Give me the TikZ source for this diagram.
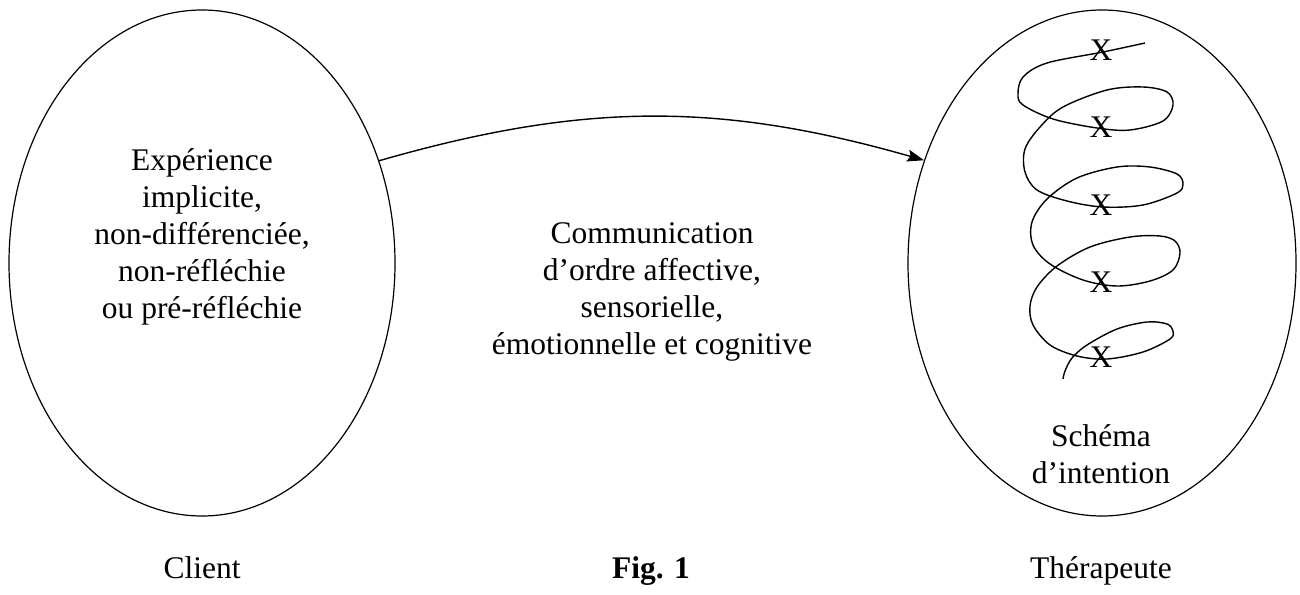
\documentclass[tikz,border=0pt]{standalone}
\usepackage{fontspec}
\setmainfont{Liberation Serif}
\usetikzlibrary{shapes.geometric,arrows.meta}
\tikzset{
  bubble/.style={draw, ellipse, line width=1.2pt, inner sep=0pt},
  label txt/.style={align=center, font=\fontsize{31.5}{37}\selectfont, inner sep=0pt},
  mark txt/.style={font=\fontsize{31.5}{32}\selectfont, inner sep=0pt},
  link/.style={line width=1.4pt, -{Stealth[length=17pt,width=12pt,inset=3pt]}},
  coil/.style={line width=1.4pt}
}
\begin{document}
\begin{tikzpicture}[x=1pt,y=-1pt]
\useasboundingbox (0,0) rectangle (1300,594);

% the two persons
\node[bubble, minimum width=386pt, minimum height=506pt] (client) at (202,263) {};
\node[bubble, minimum width=388pt, minimum height=506pt] (therap) at (1102,263) {};

% texts inside and between
\node[label txt] (exp) at (202,237) {Expérience\\implicite,\\non-différenciée,\\non-réfléchie\\ou pré-réfléchie};
\node[label txt] (comm) at (652,292) {Communication\\d’ordre affective,\\sensorielle,\\émotionnelle et cognitive};
\node[label txt] (schema) at (1101,454) {Schéma\\d’intention};

% captions
\node[label txt, anchor=base] (lclient) at (202,578) {Client};
\node[label txt, anchor=base] (fig) at (651,578) {\textbf{Fig. 1}};
\node[label txt, anchor=base] (ltherap) at (1101,578) {Thérapeute};

% communication arrow
\draw[link] (client.30) to[bend left=16] (therap.150.6);

% marks along the coil
\foreach \i/\yy in {1/50,2/127,3/205,4/282,5/357}
  \node[mark txt] (x\i) at (1101,\yy) {X};

% the coil
\draw[coil] plot[smooth, tension=0.55] coordinates {
 (1145,43) (1103,52) (1047,63) (1023,77) (1018,94) (1023,105) (1053,119)
 (1097,128) (1130,130) (1163,121) (1173,105) (1167,92) (1143,87) (1107,90)
 (1063,107) (1040,127) (1025,149) (1025,172) (1037,190) (1067,201) (1103,207)
 (1143,205) (1177,193) (1183,184) (1177,174) (1150,167) (1117,167) (1077,178)
 (1047,199) (1032,222) (1033,245) (1050,264) (1083,280) (1117,286) (1150,281)
 (1173,270) (1180,253) (1175,241) (1160,236) (1130,237) (1090,247) (1057,266)
 (1037,287) (1030,306) (1033,325) (1050,345) (1077,356) (1107,359) (1143,352)
 (1170,339) (1173,331) (1167,324) (1147,322) (1117,329) (1087,345) (1072,358)
 (1065,371) (1063,379)};
\end{tikzpicture}
\end{document}
